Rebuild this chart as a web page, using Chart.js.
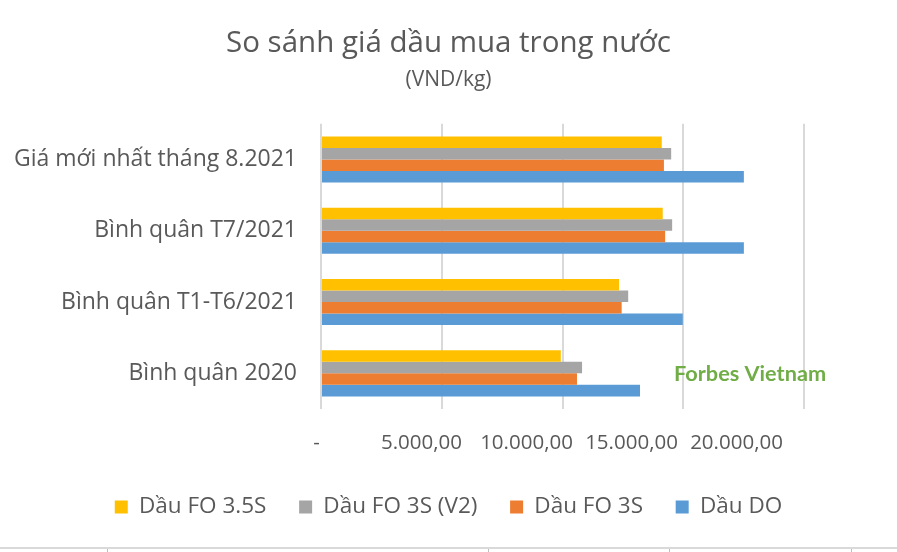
<!DOCTYPE html>
<html><head><meta charset="utf-8">
<script src="https://cdn.jsdelivr.net/npm/chart.js@4.4.0/dist/chart.umd.min.js"></script>
<style>html,body{margin:0;padding:0;background:#fff;} #wrap{width:897px;height:552px;}</style>
</head><body><div id="wrap"><canvas id="c" width="897" height="552"></canvas></div>
<script>
const categories = ['Giá mới nhất tháng 8.2021', 'Bình quân T7/2021', 'Bình quân T1-T6/2021', 'Bình quân 2020'];
const seriesNames = ['Dầu FO 3.5S', 'Dầu FO 3S (V2)', 'Dầu FO 3S', 'Dầu DO'];
const fo35s = [14110, 14150, 12340, 9930];
const fo3sV2 = [14500, 14540, 12720, 10810];
const fo3s = [14200, 14250, 12450, 10600];
const dauDO = [17510, 17510, 14980, 13210];
const tickValues = [0, 5000, 10000, 15000, 20000];
const tickLabels = ['-', '5.000,00', '10.000,00', '15.000,00', '20.000,00'];
const titleText = 'So sánh giá dầu mua trong nước';
const subtitleText = '(VND/kg)';
const watermarkText = 'Forbes Vietnam';

const colors = ['#FFC000', '#A5A5A5', '#ED7D31', '#5B9BD5'];
const FONT = "'Open Sans', 'Noto Sans', sans-serif";
const WFONT = "Lato, 'Noto Sans', sans-serif";
const TXT = '#595959';

const seriesValues = [fo35s, fo3sV2, fo3s, dauDO];

const decor = {
  id: 'decor',
  afterDraw(chart) {
    const ctx = chart.ctx;
    ctx.save();
    ctx.fillStyle = '#70AD47';
    ctx.font = "bold 21.7px " + WFONT;
    ctx.textAlign = 'left';
    ctx.textBaseline = 'alphabetic';
    ctx.fillText(watermarkText, 674, 381);
    ctx.fillStyle = '#D9D9D9';
    ctx.fillRect(0, 547, 897, 2);
    ctx.fillStyle = '#BFBFBF';
    [107, 488, 669, 851].forEach(x => ctx.fillRect(x, 549, 1, 3));
    ctx.restore();
  }
};

new Chart(document.getElementById('c'), {
  type: 'bar',
  data: {
    labels: categories,
    datasets: seriesNames.map((n, i) => ({
      label: n,
      data: seriesValues[i],
      backgroundColor: colors[i],
      borderWidth: 0,
      categoryPercentage: 0.646,
      barPercentage: 1.0
    }))
  },
  options: {
    indexAxis: 'y',
    responsive: false,
    animation: false,
    devicePixelRatio: 1,
    layout: { padding: { left: 0, right: 0, top: 0, bottom: 23.75 } },
    plugins: {
      title: {
        display: true, text: titleText, color: TXT,
        font: { family: FONT, size: 29.5, weight: 'normal' },
        padding: { top: 25.4, bottom: 0 }
      },
      subtitle: {
        display: true, text: subtitleText, color: TXT,
        font: { family: FONT, size: 21, weight: 'normal' },
        padding: { top: 7, bottom: 30.8 }
      },
      legend: {
        position: 'bottom',
        labels: {
          boxWidth: 13, boxHeight: 13, padding: 32.7, color: TXT,
          font: { family: FONT, size: 22.5 }
        }
      },
      tooltip: { enabled: false }
    },
    scales: {
      y: {
        type: 'category',
        grid: { display: false },
        border: { display: false },
        ticks: { color: TXT, font: { family: FONT, size: 23 }, padding: 16 },
        afterFit: a => { a.width = 321; }
      },
      yR: {
        type: 'linear', position: 'right', display: true,
        grid: { display: false }, border: { display: false },
        ticks: { display: false },
        afterFit: a => { a.width = 93; }
      },
      x: {
        type: 'linear', position: 'bottom', min: 0, max: 20000,
        ticks: { display: false, stepSize: 5000 },
        grid: { color: '#D9D9D9', lineWidth: 2, drawTicks: false },
        border: { display: false },
        afterFit: a => { a.height = 0; }
      },
      x2: {
        type: 'linear', position: 'bottom', min: 214, max: 23214,
        grid: { display: false }, border: { display: false },
        ticks: {
          autoSkip: false, maxRotation: 0, color: TXT, padding: 14,
          font: { family: FONT, size: 20.5 },
          callback: v => { const k = tickValues.indexOf(v); return k >= 0 ? tickLabels[k] : ''; }
        },
        afterBuildTicks: a => { a.ticks = tickValues.map(v => ({ value: v })); },
        afterFit: a => { a.height = 54.05; }
      }
    }
  },
  plugins: [decor]
});
</script>
</body></html>
